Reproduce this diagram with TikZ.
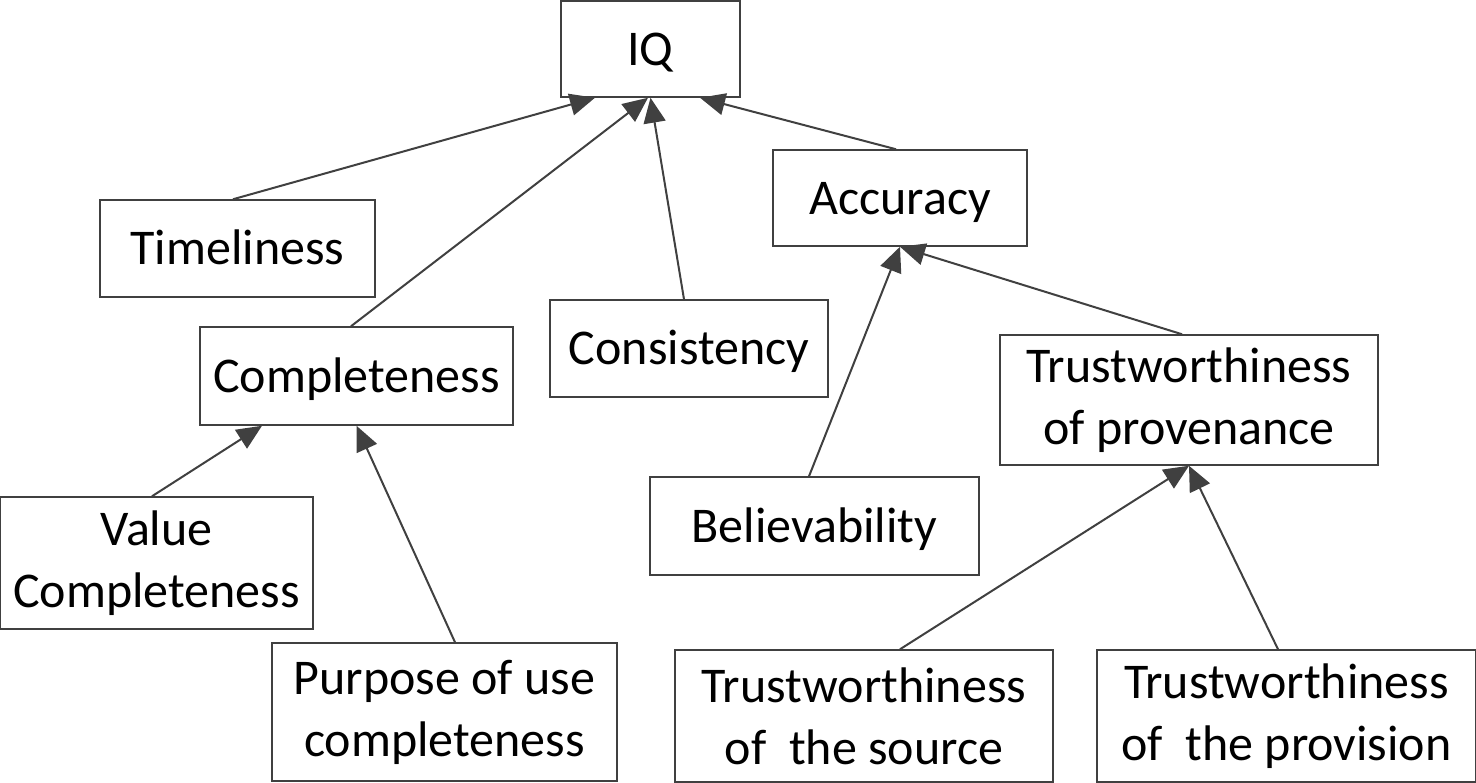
\documentclass[tikz,border=0pt]{standalone}
\usepackage{fontspec}
\setmainfont{Carlito}
\usepackage{xcolor}
\usepackage{tikz}
\usetikzlibrary{arrows.meta,positioning}

\definecolor{linegray}{HTML}{404040}

\begin{document}
\begin{tikzpicture}[
  x=0.5pt, y=-0.5pt,
  box/.style={rectangle, draw=linegray, line width=0.75pt, inner sep=0pt,
              align=center, font=\fontsize{25}{31}\selectfont},
  onebox/.style={box, text height=16.1pt, text depth=0pt},
  arr/.style={-{Triangle[length=12.5pt,width=11pt]}, draw=linegray,
              fill=linegray, line width=1pt}
]
\useasboundingbox (0,0) rectangle (1476,782);

\node[onebox, minimum width=89.5pt,  minimum height=48pt]   (iq)   at (650.5,49)  {IQ};
\node[onebox, minimum width=137.5pt, minimum height=48.5pt] (tim)  at (237.5,248.5) {Timeliness};
\node[onebox, minimum width=127pt,   minimum height=48pt]   (acc)  at (900,198)   {Accuracy};
\node[onebox, minimum width=156.5pt, minimum height=49pt]   (comp) at (356.5,376) {Completeness};
\node[onebox, minimum width=139pt,   minimum height=48.5pt] (cons) at (689,348.5) {Consistency};
\node[box, minimum width=189pt,   minimum height=65pt]   (prov) at (1189,400)  {Trustworthiness\\of provenance};
\node[onebox, minimum width=164.5pt, minimum height=49pt]   (bel)  at (814.5,526) {Believability};
\node[box, minimum width=156.5pt, minimum height=66pt]   (val)  at (156.5,563) {Value\\Completeness};
\node[box, minimum width=172.5pt, minimum height=69pt]   (purp) at (444.5,712) {Purpose of use\\completeness};
\node[box, minimum width=189pt,   minimum height=66pt]   (src)  at (864,716)   {Trustworthiness\\of\ \ the source};
\node[box, minimum width=189.5pt, minimum height=66pt]   (pvs)  at (1286.5,716) {Trustworthiness\\of\ \ the provision};

% links to IQ
\draw[arr] ([xshift=-2.25pt]tim.north)  -- ([xshift=-27.75pt]iq.south);
\draw[arr] ([xshift=-2.75pt]comp.north) -- ([xshift=-1.25pt]iq.south);
\draw[arr] ([xshift=-2.5pt]cons.north)  -- (iq.south);
\draw[arr] ([xshift=-2pt]acc.north)     -- ([xshift=24.75pt]iq.south);
% accuracy
\draw[arr] ([xshift=-2.75pt]bel.north)  -- (acc.south);
\draw[arr] ([xshift=-3.5pt]prov.north)  -- (acc.south);
% completeness
\draw[arr] ([xshift=-2.25pt]val.north)  -- ([xshift=-47.25pt]comp.south);
\draw[arr] ([xshift=5.25pt]purp.north)  -- (comp.south);
% provenance
\draw[arr] ([xshift=18pt]src.north)     -- (prov.south);
\draw[arr] ([xshift=-4.25pt]pvs.north)  -- (prov.south);
\end{tikzpicture}
\end{document}
